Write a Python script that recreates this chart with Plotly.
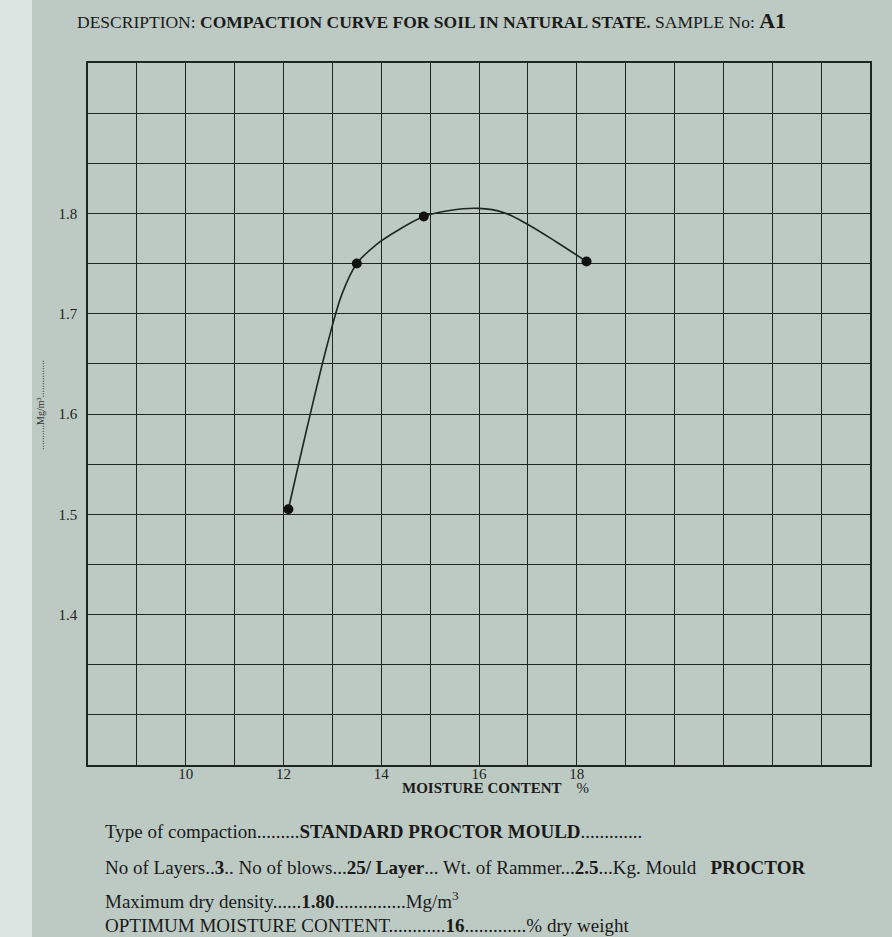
import plotly.graph_objects as go

# Measured points (moisture content %, dry density Mg/m3)
moisture = [12.1, 13.5, 14.87, 18.2]
density = [1.505, 1.75, 1.797, 1.752]

# Hand-drawn compaction curve, read along its path
curve_x = [12.1, 12.5, 12.9, 13.2, 13.5, 13.9, 14.3, 14.87, 15.4, 16.0, 16.5, 17.0, 17.6, 18.2]
curve_y = [1.505, 1.59, 1.67, 1.72, 1.75, 1.769, 1.782, 1.797, 1.803, 1.805, 1.801, 1.789, 1.771, 1.752]

x_ticks = [10, 12, 14, 16, 18]
y_ticks = [1.4, 1.5, 1.6, 1.7, 1.8]

PAPER = "#bdcac4"
INK = "#1c2723"
FONT = "Liberation Serif"

L, R, T, B = 88, 22, 63, 172
PW, PH = 892 - L - R, 937 - T - B


def px(xp):
    return (xp - L) / PW


def py(yp):
    return (937 - B - yp) / PH


fig = go.Figure()
fig.add_trace(go.Scatter(x=curve_x, y=curve_y, mode="lines",
                         line=dict(color=INK, width=1.6, shape="spline", smoothing=1.0),
                         hoverinfo="skip", showlegend=False))
fig.add_trace(go.Scatter(x=moisture, y=density, mode="markers",
                         marker=dict(color="#111", size=10),
                         showlegend=False))

axis_common = dict(showgrid=True, gridcolor=INK, gridwidth=1.4, zeroline=False,
                   showline=True, linecolor=INK, linewidth=1.6, mirror=True,
                   ticks="", tickfont=dict(family=FONT, size=15, color="#222"))

fig.update_xaxes(range=[8, 24], tickmode="array", tickvals=x_ticks,
                 ticktext=[str(v) for v in x_ticks], ticklabelstandoff=-6,
                 minor=dict(tickmode="linear", tick0=0, dtick=1, showgrid=True,
                            gridcolor=INK, gridwidth=1.4),
                 **axis_common)
fig.update_yaxes(range=[1.25, 1.95], tickmode="array", tickvals=y_ticks,
                 ticktext=[f"{v:.1f}" for v in y_ticks], ticklabelstandoff=6,
                 minor=dict(tickmode="linear", tick0=0, dtick=0.05, showgrid=True,
                            gridcolor=INK, gridwidth=1.4),
                 **axis_common)

fig.add_shape(type="rect", xref="paper", yref="paper", x0=px(-100), x1=px(32), y0=-0.4, y1=1.2,
              fillcolor="#dce5e1", line=dict(width=0), layer="below")

ann = []
ann.append(dict(text="DESCRIPTION: <b>COMPACTION CURVE FOR SOIL IN NATURAL STATE.</b> SAMPLE No: <b><span style='font-size:22px'>A1</span></b>",
                x=px(75), y=py(21), xref="paper", yref="paper", xanchor="left", yanchor="middle",
                showarrow=False, font=dict(family=FONT, size=17.5, color="#1a1a1a")))
ann.append(dict(text="<b>MOISTURE CONTENT</b>    %", x=px(400), y=py(788), xref="paper", yref="paper",
                xanchor="left", yanchor="middle", showarrow=False,
                font=dict(family=FONT, size=15, color="#1a1a1a")))
ann.append(dict(text="..........Mg/m³...............", x=px(40), y=py(405), xref="paper", yref="paper",
                xanchor="center", yanchor="middle",
                textangle=-90, showarrow=False, font=dict(family=FONT, size=10, color="#333")))

lines = [
    ("Type of compaction.........<b>STANDARD PROCTOR MOULD</b>.............", 831),
    ("No of Layers..<b>3</b>.. No of blows...<b>25/ Layer</b>... Wt. of Rammer...<b>2.5</b>...Kg. Mould   <b>PROCTOR</b>", 867),
    ("Maximum dry density......<b>1.80</b>...............Mg/m<sup>3</sup>", 900),
    ("OPTIMUM MOISTURE CONTENT............<b>16</b>.............% dry weight", 925),
]
for txt, ypix in lines:
    ann.append(dict(text=txt, x=px(103), y=py(ypix), xref="paper", yref="paper",
                    xanchor="left", yanchor="middle", showarrow=False,
                    font=dict(family=FONT, size=19, color="#1a1a1a")))

fig.update_layout(width=892, height=937, margin=dict(l=L, r=R, t=T, b=B),
                  paper_bgcolor=PAPER, plot_bgcolor=PAPER, annotations=ann,
                  font=dict(family=FONT))

fig.write_html("out.html", config={"displayModeBar": False},
               post_script="document.body.style.margin='0';")
